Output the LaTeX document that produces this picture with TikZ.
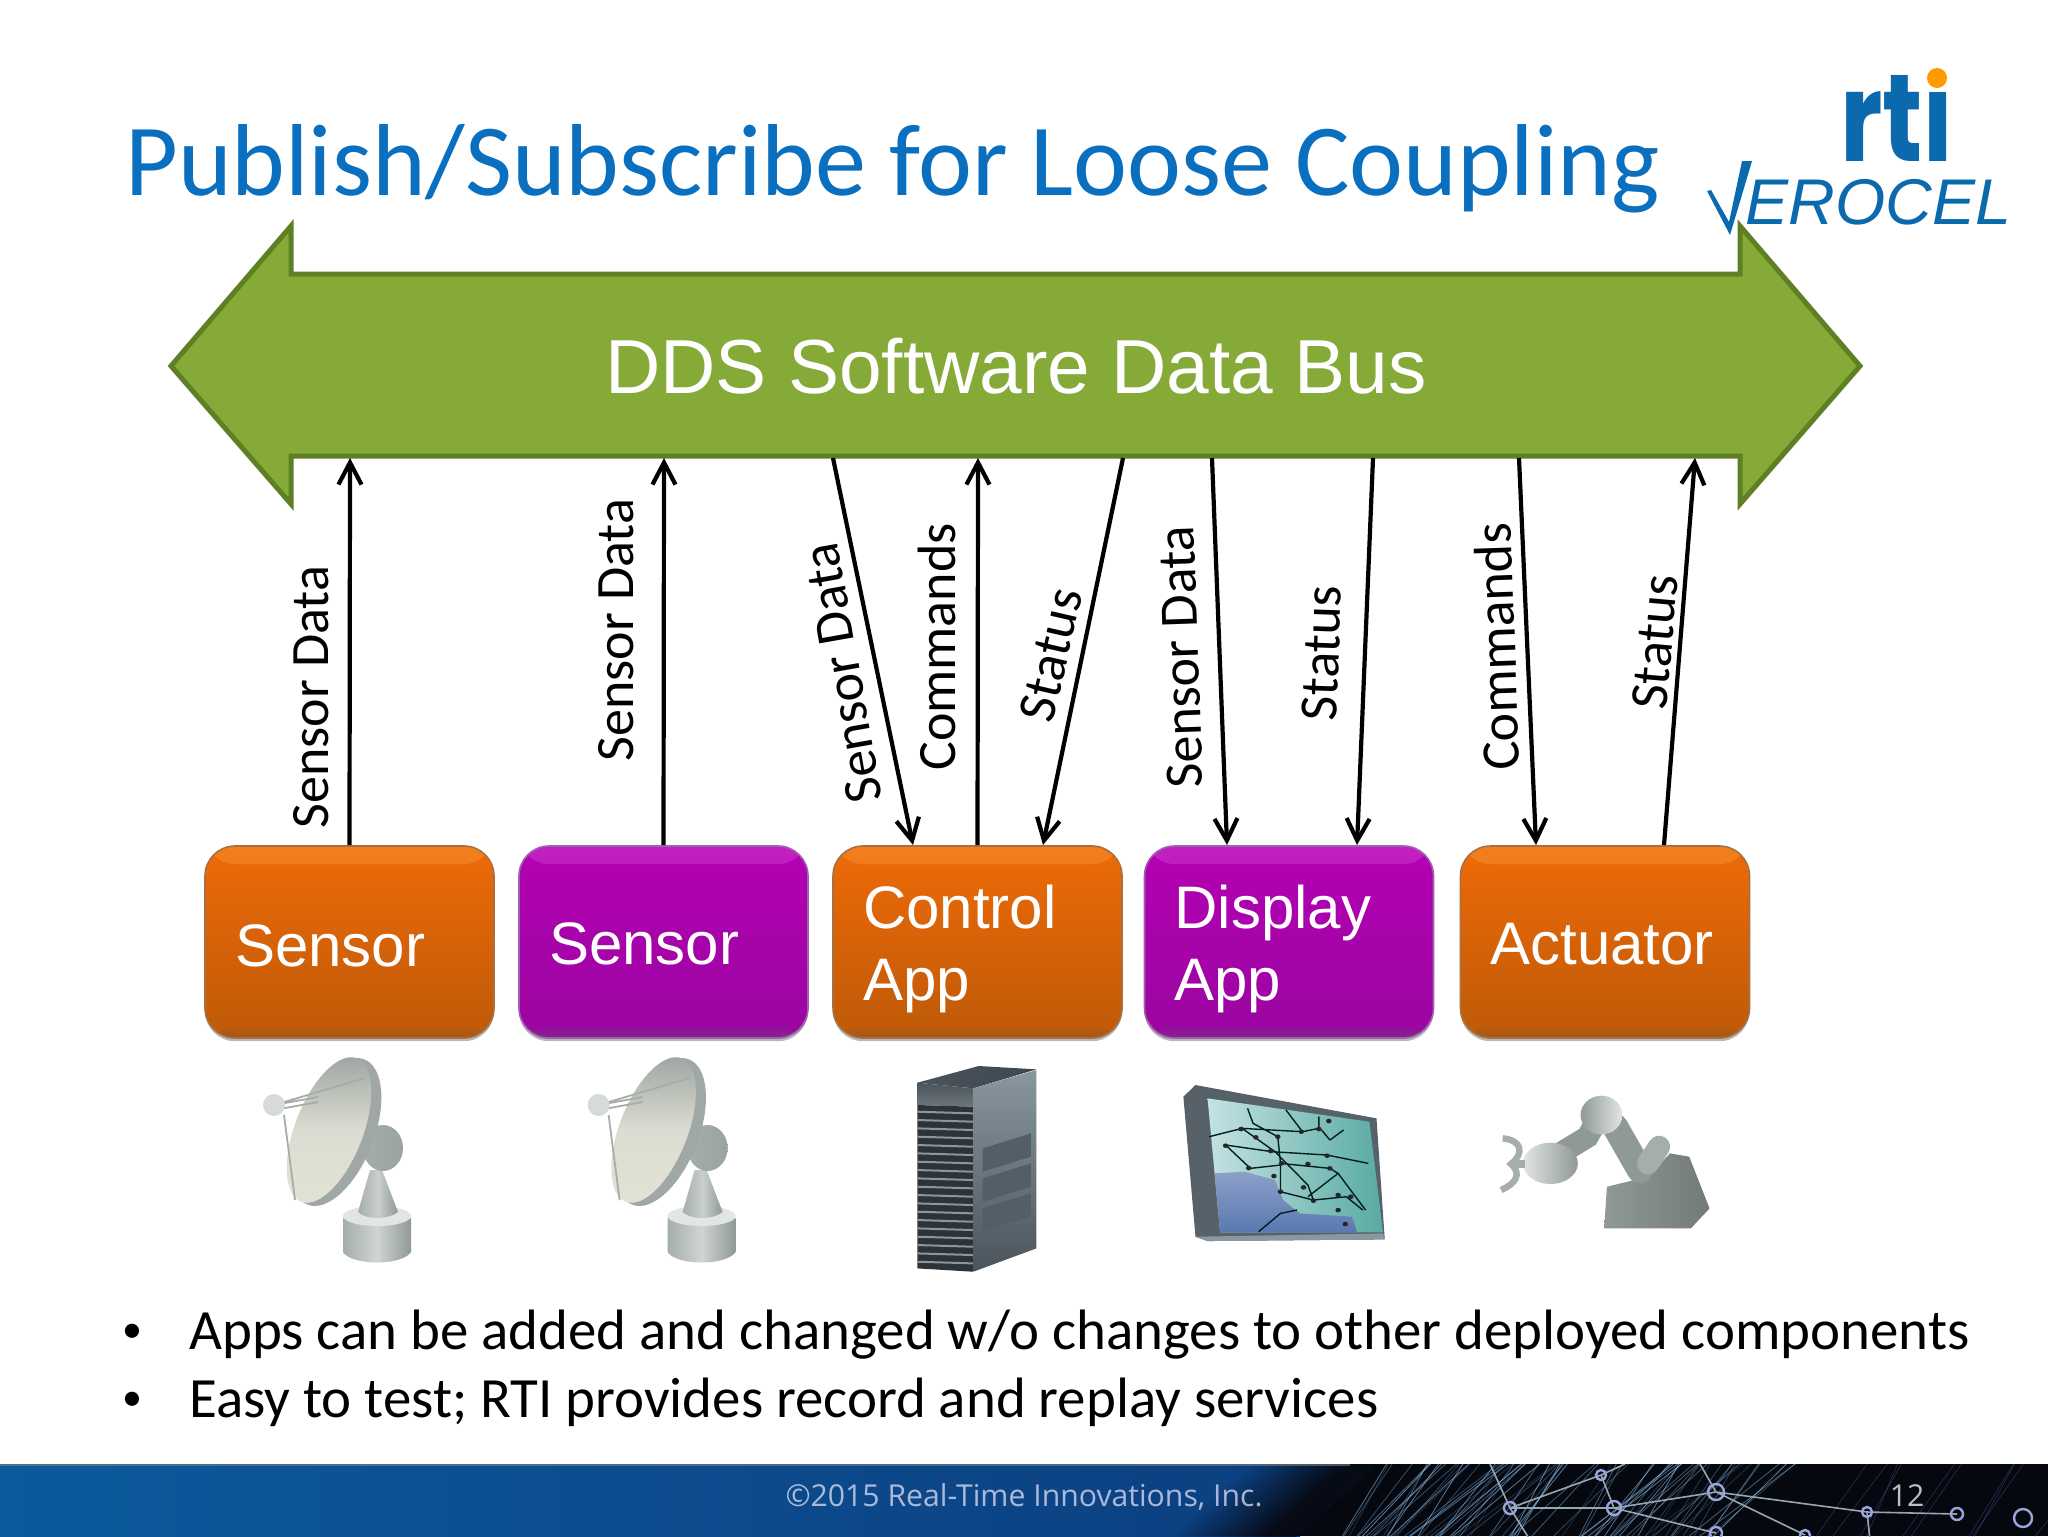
\documentclass[tikz,border=0pt]{standalone}
\usepackage{fontspec}
\setmainfont{Carlito}
\newfontfamily\arialf{Liberation Sans}
\newfontfamily\popf{Poppins}
\newfontfamily\openf{Open Sans}
\usetikzlibrary{arrows.meta,shadows,calc}
\definecolor{titleblue}{HTML}{0A6FBF}
\definecolor{logoblue}{HTML}{0B69AE}
\definecolor{busfill}{HTML}{85AA37}
\definecolor{busline}{HTML}{5F7F24}
\definecolor{orL}{HTML}{F27E1E}
\definecolor{orT}{HTML}{EE6A08}
\definecolor{orB}{HTML}{BE5A08}
\definecolor{orD}{HTML}{A0571C}
\definecolor{orE}{HTML}{A87040}
\definecolor{puL}{HTML}{C220C2}
\definecolor{puT}{HTML}{B400B4}
\definecolor{puB}{HTML}{9A06A0}
\definecolor{puD}{HTML}{7E2A8A}
\definecolor{puE}{HTML}{A060B0}
\definecolor{footL}{HTML}{0B5A9C}
\definecolor{footM}{HTML}{0C3F80}
\definecolor{footD}{HTML}{060810}
\definecolor{gA}{HTML}{A5AEA9}
\definecolor{gB}{HTML}{E2E6E2}
\definecolor{gC}{HTML}{8F9995}
\definecolor{cream}{HTML}{E2E2D6}
\definecolor{servA}{HTML}{8A979E}
\definecolor{servB}{HTML}{4A545C}
\definecolor{servC}{HTML}{2E3338}
\definecolor{seaT}{HTML}{8CA0C8}
\definecolor{seaB}{HTML}{5A78B0}
\definecolor{scrL}{HTML}{C4E2E2}
\definecolor{scrR}{HTML}{58AAA2}
\tikzset{
  busshape/.style={draw=busline,fill=busfill,line width=2.5pt,miter limit=4},
  buslabel/.style={inner sep=0pt,text=white,font=\arialf\fontsize{38.3}{44}\selectfont},
  appbox/.style={rectangle,rounded corners=15pt,minimum width=144.5pt,minimum height=96pt,
    inner xsep=15pt,inner ysep=0pt,text width=114.5pt,align=left,text=white,line width=.8pt,
    font=\arialf\fontsize{30}{36}\selectfont,
    drop shadow={shadow xshift=0pt,shadow yshift=-1.6pt,opacity=.28,fill=black}},
  orangebox/.style={appbox,draw=orE,top color=orT,bottom color=orB,
    path picture={
      \shade[top color=orL,bottom color=orT] (path picture bounding box.north west) rectangle ([yshift=-9pt]path picture bounding box.north east);
      \shade[top color=orB,bottom color=orD] ([yshift=6pt]path picture bounding box.south west) rectangle (path picture bounding box.south east);
    }},
  purplebox/.style={appbox,draw=puE,top color=puT,bottom color=puB,
    path picture={
      \shade[top color=puL,bottom color=puT] (path picture bounding box.north west) rectangle ([yshift=-9pt]path picture bounding box.north east);
      \shade[top color=puB,bottom color=puD] ([yshift=6pt]path picture bounding box.south west) rectangle (path picture bounding box.south east);
    }},
  flow/.style={line width=2.1pt,black,-{Straight Barb[length=11pt,width=11.5pt,line width=2.1pt]}},
  flowlabel/.style={font=\fontsize{27}{32}\selectfont,black,inner sep=0pt},
  bullettext/.style={anchor=base west,inner sep=0pt,font=\fontsize{28.45}{32}\selectfont},
  bulletdot/.style={anchor=base,inner sep=0pt,font=\fontsize{20}{24}\selectfont},
  ring/.style={line width=1.2pt,color=#1},
}
\begin{document}
\begin{tikzpicture}[x=0.5pt,y=-0.5pt]
\useasboundingbox (0,0) rectangle (2048,1536);
\fill[white] (0,0) rectangle (2048,1536);

% title
\node[anchor=base west,inner sep=0pt,text=titleblue,font=\fontsize{51.1}{60}\selectfont] (title) at (125,195) {Publish/Subscribe for Loose Coupling};

% logo
\node[anchor=base west,inner sep=0pt,text=logoblue,font=\popf\bfseries\fontsize{62}{62}\selectfont,xscale=.8] (rti) at (1840,162) {rti};
\fill[white] (1921,45) rectangle (1965,92);
\fill[orange!80!yellow] (1937,78) circle (10);
\fill[logoblue] (1707,191) -- (1711,190) -- (1729,222) -- (1742,161) -- (1752,161) -- (1730,235) -- cycle;
\node[anchor=base west,inner sep=0pt,text=logoblue,font=\arialf\itshape\fontsize{32.3}{36}\selectfont] (verocel) at (1745,224) {EROCEL};

% bus
\draw[busshape] (171,366) -- (291,226) -- (291,274) -- (1740,274) -- (1740,226) -- (1860,366) -- (1740,504) -- (1740,456) -- (291,456) -- (291,504) -- cycle;
\node[buslabel] (bus) at (1016,366) {DDS Software Data Bus};

% boxes
\node[orangebox] (s1) at (349.5,942) {\rule{0pt}{24.5pt}Sensor};
\node[purplebox] (s2) at (663.5,942) {\rule{0pt}{23pt}Sensor};
\node[orangebox] (ctl) at (977.5,942) {\rule{0pt}{28.5pt}Control\\App};
\node[purplebox] (dsp) at (1289,942) {\rule{0pt}{28.5pt}Display\\App};
\node[orangebox] (act) at (1605,942) {\rule{0pt}{23pt}Actuator};

% connector ends on the bus
\coordinate (b1) at (350,458);
\coordinate (b2) at (664,458);
\coordinate (b3) at (833,458);
\coordinate (b4) at (978,458);
\coordinate (b5) at (1123,458);
\coordinate (b6) at (1212,458);
\coordinate (b7) at (1373,458);
\coordinate (b8) at (1519,458);
\coordinate (b9) at (1695,458);
% connector ends on the boxes
\coordinate (c3) at (913,845);
\coordinate (c5) at (1043,845);
\coordinate (c6) at (1227,845);
\coordinate (c7) at (1357,845);
\coordinate (c8) at (1536,845);
\coordinate (c9) at (1664,845);

\draw[flow] (s1.north) -- (b1);
\draw[flow] (s2.north) -- (b2);
\draw[flow] (b3) -- (c3);
\draw[flow] (ctl.north) -- (b4);
\draw[flow] (b5) -- (c5);
\draw[flow] (b6) -- (c6);
\draw[flow] (b7) -- (c7);
\draw[flow] (b8) -- (c8);
\draw[flow] (c9) -- (b9);

\node[flowlabel,rotate=90] (l1) at (311,697) {Sensor Data};
\node[flowlabel,rotate=90] (l2) at (616,630) {Sensor Data};
\node[flowlabel,rotate=100] (l3) at (843,673) {Sensor Data};
\node[flowlabel,rotate=90] (l4) at (937,647) {Commands};
\node[flowlabel,rotate=77] (l5) at (1051,655) {Status};
\node[flowlabel,rotate=92] (l6) at (1181,657) {Sensor Data};
\node[flowlabel,rotate=88] (l7) at (1322,653) {Status};
\node[flowlabel,rotate=92] (l8) at (1497,647) {Commands};
\node[flowlabel,rotate=85] (l9) at (1655,642) {Status};

% dishes
\foreach \dx in {180,504.6}{
\begin{scope}[shift={(\dx,1040)}]
  \shade[left color=gA,right color=gC,middle color=gB!70!gA]
    (163,178) -- (163,212) .. controls (172,226) and (222,226) .. (231,212) -- (231,178) -- cycle;
  \fill[gB] (197,176) ellipse [x radius=34,y radius=10];
  \shade[left color=gA,right color=gC,middle color=gB!60!gA]
    (190,130) -- (202,130) -- (218,172) .. controls (208,180) and (186,180) .. (178,172) -- cycle;
  \shade[left color=gA,right color=gC!90!white] (203,108) ellipse [x radius=20,y radius=23];
  \fill[gC!85!white,shift={(156,92)},rotate=68.7] (0,0) ellipse [x radius=78,y radius=38];
  \shade[shading angle=-25,top color=gC!90!white,bottom color=cream,middle color=cream!90!gA,shift={(149,90)},rotate=68.7] (0,0) ellipse [x radius=77,y radius=34];
  \draw[gA,line width=.9pt] (94,65) -- (185,38) (94,65) -- (138,57) (94,70) -- (138,62) (104,75) -- (115,160);
  \fill[gB!80!gA] (94,65) circle (11);
\end{scope}}

% server
\begin{scope}[shift={(880,1040)},x=0.2743pt,y=-0.1667pt]
  \shade[left color=servB,right color=servB!85!black] (68,128) -- (180,78) -- (285,88) -- (170,145) -- cycle;
  \shade[top color=servB,bottom color=servB!80!white] (68,128) -- (170,145) -- (170,200) -- (68,195) -- cycle;
  \fill[servC] (68,195) -- (170,200) -- (170,695) -- (68,685) -- cycle;
  \foreach \yy in {215,240,...,680}{\draw[servA,line width=1pt] (68,\yy) -- (170,\yy+5);}
  \shade[top color=servA,bottom color=servB] (170,145) -- (285,90) -- (285,625) -- (170,695) -- cycle;
  \foreach \yy in {0,90,180}{\fill[servB!85!servA] (187,325+\yy) -- (275,280+\yy) -- (275,350+\yy) -- (187,395+\yy) -- cycle;}
\end{scope}

% monitor
\begin{scope}[shift={(880,1040)},x=0.2743pt,y=-0.1667pt]
  \fill[servB!80!servA] (575,135) -- (905,235) -- (920,598) -- (597,603) -- (575,590) -- (553,170) -- cycle;
  \fill[servA] (575,590) -- (597,603) -- (920,598) -- (917,580) -- cycle;
  \shade[shading angle=65,left color=scrL,right color=scrR] (597,175) -- (892,245) -- (917,577) -- (620,577) -- cycle;
  \shade[top color=seaT,bottom color=seaB] (610,400) -- (665,395) -- (720,420) -- (735,480) -- (765,520) -- (860,530) -- (870,577) -- (620,577) -- cycle;
  \draw[black!75!teal,line width=.7pt] (600,290) -- (660,265) -- (720,335) -- (780,435) -- (790,480) -- (850,470) -- (880,510)
    (630,315) -- (715,335) -- (815,345) -- (890,370)
    (660,265) -- (770,275) -- (800,265) -- (800,230) (670,205) -- (680,250) -- (725,290) -- (730,370) -- (820,385)
    (630,315) -- (675,385) -- (730,375) (730,370) -- (730,455) -- (790,480) (820,385) -- (835,400) -- (780,470) (835,400) -- (885,510)
    (690,575) -- (730,520) -- (760,510) (820,300) -- (845,270) (820,300) -- (805,270) (770,275) -- (740,210);
  \foreach \px/\py in {658/267,685/292,725/290,630/317,712/333,768/275,800/267,818/243,815/347,780/372,820/385,672/384,732/370,718/408,772/442,730/455,790/482,835/465,858/470,835/510,848/552}
    {\fill[black!85] (\px,\py) ellipse [x radius=5,y radius=7];}
\end{scope}

% robot
\begin{scope}[shift={(880,1040)},x=0.2743pt,y=-0.1667pt]
  \shade[left color=gC,right color=gC!80!black] (1320,565) -- (1325,440) -- (1400,410) -- (1440,340) -- (1475,350) -- (1512,505) -- (1478,565) -- cycle;
  \draw[gC,line width=13pt,line cap=round] (1385,390) -- (1340,260);
  \draw[gA,line width=11pt,line cap=round] (1400,370) -- (1420,320);
  \draw[gC,line width=11pt,line cap=round] (1312,225) -- (1290,290) -- (1230,350);
  \shade[left color=gC,right color=gB] (1315,225) ellipse [x radius=38,y radius=58];
  \shade[left color=gB,right color=gC] (1222,370) ellipse [x radius=50,y radius=62];
  \draw[gA,line width=4pt] (1175,372) -- (1150,372);
  \draw[gA,line width=3.2pt] (1135,295) .. controls (1170,300) and (1175,340) .. (1150,372) .. controls (1170,400) and (1160,430) .. (1132,450);
\end{scope}

% bullets
\node[bulletdot] (d1) at (132,1342) {•};
\node[bullettext] (t1) at (189,1349) {Apps can be added and changed w/o changes to other deployed components};
\node[bulletdot] (d2) at (132,1410) {•};
\node[bullettext] (t2) at (189,1417) {Easy to test; RTI provides record and replay services};

% footer
\shade[left color=footL,right color=footM] (0,1464) rectangle (1300,1536);
\fill[footD] (1290,1464) rectangle (2048,1536);
\foreach \i in {0,...,19}{
  \pgfmathsetmacro{\pct}{100-\i*5}
  \fill[footM!\pct!footD] ({1250+\i*5},1464) -- ({1376},1464) -- ({1296},1536) -- ({1170+\i*5},1536) -- cycle;
}
\begin{scope}
  \clip (1300,1464) rectangle (2048,1536);
  \pgfmathsetseed{7}
  \foreach \i in {1,...,80}{
    \pgfmathsetmacro{\xa}{1340+rnd*370}
    \pgfmathsetmacro{\xb}{\xa+40+rnd*70}
    \pgfmathsetmacro{\op}{.15+rnd*.45}
    \draw[line width=.4pt,color=blue!45!cyan!40!white,opacity=\op] (\xa,1540) -- (\xb,1460);
  }
  \foreach \i in {1,...,10}{
    \pgfmathsetmacro{\xa}{1800+rnd*240}
    \pgfmathsetmacro{\xb}{\xa+30+rnd*40}
    \draw[line width=.3pt,color=blue!60!black!55,opacity=.35] (\xa,1540) -- (\xb,1460);
  }
  \draw[line width=.8pt,color=cyan!25!white!65!black] (1510,1508) -- (1614,1508) -- (1716,1492) -- (1867,1512) -- (1957,1514)
    (1510,1508) -- (1601,1475) -- (1614,1508) -- (1716,1533) (1716,1492) -- (1805,1535)
    (1510,1508) -- (1490,1464) (1510,1508) -- (1530,1540) (1601,1475) -- (1625,1464) (1716,1492) -- (1700,1464) (1867,1512) -- (1870,1540);
  \foreach \px/\py/\r in {1510/1508/6,1614/1508/7,1716/1492/8,1601/1475/5,1867/1512/5,1957/1514/6,2023/1518/9,1716/1533/6,1805/1535/5}{
    \draw[ring=cyan!30!blue!40!white] (\px,\py) circle (\r);
  }
\end{scope}
\fill[black!50!white,opacity=.6] (0,1464) rectangle (1350,1465.5);
\node[anchor=base,inner sep=0pt,text=black!30!blue!12!white,opacity=.75,font=\openf\fontsize{15.1}{18}\selectfont] (foot) at (1024,1506) {©2015 Real-Time Innovations, Inc.};
\node[anchor=base,inner sep=0pt,text=black!25!white,font=\openf\fontsize{15.1}{18}\selectfont] (pg) at (1907,1506) {12};
\end{tikzpicture}
\end{document}
